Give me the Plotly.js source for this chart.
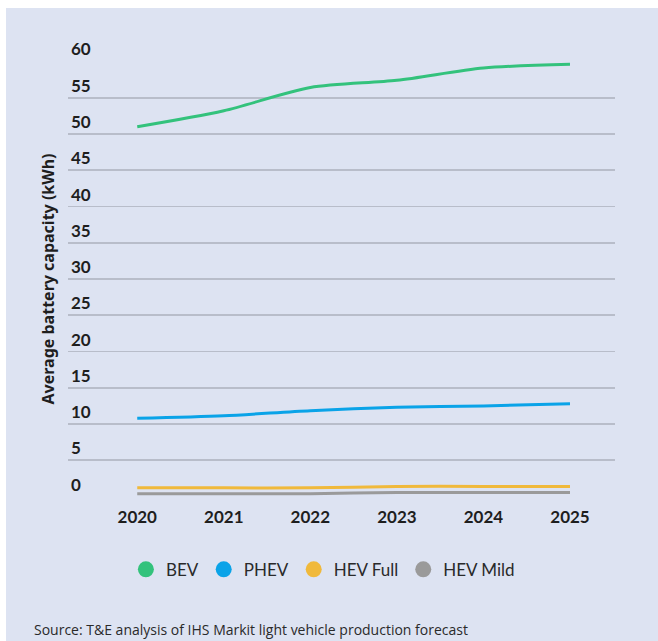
<!DOCTYPE html>
<html>
<head>
<meta charset="utf-8">
<script src="https://cdn.plot.ly/plotly-3.0.1.min.js"></script>
<style>
  html, body { margin: 0; padding: 0; background: #ffffff; }
  #chart { position: absolute; left: 6px; top: 8px; width: 652px; height: 633px; }
</style>
</head>
<body>
<div id="chart"></div>
<script>
const years = [2020, 2021, 2022, 2023, 2024, 2025];
const bev = [51.0, 53.2, 56.4, 57.4, 59.1, 59.6];
const phev = [10.8, 11.15, 11.85, 12.3, 12.5, 12.8];
const hevFull = [1.2, 1.2, 1.2, 1.4, 1.4, 1.4];
const hevMild = [0.4, 0.4, 0.4, 0.55, 0.55, 0.55];
const seriesNames = ['BEV', 'PHEV', 'HEV Full', 'HEV Mild'];
const seriesColors = ['#33c27c', '#0aa3e8', '#f0b93b', '#9a9a9a'];
const seriesValues = [bev, phev, hevFull, hevMild];
const seriesSmoothing = [0.8, 0.8, 0.4, 0.4];
const yTicks = [0, 5, 10, 15, 20, 25, 30, 35, 40, 45, 50, 55, 60];

const FONT = 'Lato, "Noto Sans", sans-serif';
const traces = [];
seriesValues.forEach((vals, i) => {
  traces.push({
    x: years, y: vals, type: 'scatter', mode: 'lines',
    line: { color: seriesColors[i], width: 3, shape: 'spline', smoothing: seriesSmoothing[i] },
    showlegend: false, hoverinfo: 'skip'
  });
});
seriesNames.forEach((name, i) => {
  traces.push({
    x: [null], y: [null], type: 'scatter', mode: 'markers', name: name,
    marker: { color: seriesColors[i], size: 20, symbol: 'circle' },
    showlegend: true
  });
});

const layout = {
  width: 652, height: 633,
  paper_bgcolor: '#dde3f2', plot_bgcolor: '#dde3f2',
  margin: { l: 62, r: 43, t: 53, b: 144 },
  font: { family: FONT, color: '#222222' },
  showlegend: true,
  legend: {
    orientation: 'h', x: 0.466, xanchor: 'center', xref: 'paper',
    y: -0.167, yanchor: 'middle',
    font: { size: 17, color: '#2a2a2a', family: FONT },
    itemgap: 8, bgcolor: 'rgba(0,0,0,0)'
  },
  xaxis: {
    range: [2019.2, 2025.52], tickvals: years, ticktext: years.map(String),
    showgrid: false, zeroline: false, showline: false, ticks: '',
    ticklabelstandoff: 8,
    tickfont: { size: 17, family: FONT, weight: 'bold', color: '#1e1e1e' }
  },
  yaxis: {
    range: [-0.06, 60.06], tickvals: yTicks, ticktext: yTicks.map(String),
    showgrid: true, gridcolor: '#b8bdca', gridwidth: 1.6,
    zeroline: false, showline: false, ticks: '',
    ticklabelposition: 'inside top', ticklabeloverflow: 'allow',
    ticklabelstandoff: 0,
    tickfont: { size: 17, family: FONT, weight: 'bold', color: '#1e1e1e' },
    title: { text: 'Average battery capacity (kWh)', standoff: 12,
      font: { size: 16, family: '"Noto Sans", sans-serif', weight: 'bold', color: '#1e1e1e' } }
  },
  annotations: [{
    xref: 'paper', yref: 'paper', x: -0.065, y: -0.305, xanchor: 'left', yanchor: 'middle',
    text: 'Source: T&E analysis of IHS Markit light vehicle production forecast',
    showarrow: false, font: { size: 14, family: '"Open Sans", sans-serif', color: '#2a2a2a' }
  }]
};

Plotly.newPlot('chart', traces, layout, { displayModeBar: false, staticPlot: true });
</script>
</body>
</html>
